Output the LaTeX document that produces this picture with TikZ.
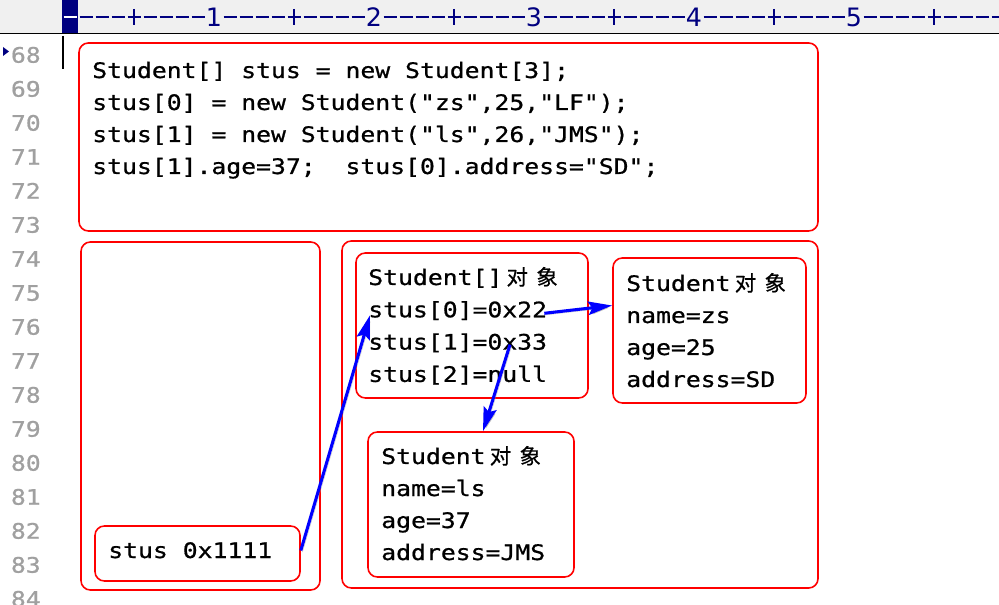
\documentclass[tikz,border=0pt]{standalone}
\usepackage{fontspec}
\usetikzlibrary{arrows.meta,fit}
\newfontfamily\codefont[FakeStretch=1.16,FakeBold=0.8]{DejaVu Sans Mono}
\newfontfamily\cjkfont[FakeBold=0.6]{Noto Sans CJK SC}
\newfontfamily\rulerfont{DejaVu Sans}
\newcommand\cj[1]{\makebox[22.35pt]{\cjkfont #1}}
\definecolor{rulerbg}{HTML}{F0F0F0}
\definecolor{navy}{HTML}{000080}
\definecolor{lnum}{HTML}{A0A0A0}

\begin{document}
\begin{tikzpicture}
  [x=0.75pt,y=-0.75pt,
   box/.style={draw=red,line width=1.2pt,rounded corners=7pt,inner sep=0pt},
   code/.style={inner sep=0pt,anchor=base west,font={\codefont\fontsize{16pt}{24pt}\selectfont}},
   lineno/.style={inner sep=0pt,anchor=base east,text=lnum,font={\codefont\fontsize{16pt}{24pt}\selectfont}},
   tick/.style={navy,line width=0.8pt},
   link/.style={blue,line width=2.3pt,-{Stealth[length=18pt,width=10pt,inset=3pt]},
     preaction={draw=black!40,opacity=.5,transform canvas={shift={(1.2pt,-1.2pt)}}}}]
  \useasboundingbox (0,0) rectangle (999,605);

  \fill[rulerbg] (0,0) rectangle (999,33);
  \draw[line width=0.8pt] (0,33.5) -- (999,33.5);
  \fill[navy] (62,0) rectangle (78,33);
  \draw[white,line width=0.8pt] (63.5,17) -- (76.5,17);
  \foreach \i in {1,...,58}
    \draw[tick] ({63.5+16*\i},17) -- ({76.5+16*\i},17);
  \foreach \i in {0,...,5}
    \draw[tick] ({134+160*\i},9) -- ({134+160*\i},25);
  \foreach \d in {1,...,5}
    \node[fill=rulerbg,text=navy,inner sep=0pt,minimum width=12pt,minimum height=14pt,anchor=base,
      font={\rulerfont\fontsize{19pt}{20pt}\selectfont}] (col\d) at ({54+160*\d},27) {\d};

  \fill[navy] (3,47) -- (9,51.5) -- (3,56) -- cycle;
  \draw[line width=1.1pt] (63,36) -- (63,69);
  \foreach \n [count=\k from 0] in {68,...,84}
    \node[lineno] (ln\n) at (41,{62.7+34*\k}) {\n};

  \node[box,fit={(79,43) (818,231)}] (main) {};
  \node[box,fit={(81,242) (320,590)}] (stack) {};
  \node[box,fit={(342,241) (818,588)}] (heap) {};
  \node[box,fit={(356,253) (588,398)}] (arr) {};
  \node[box,fit={(613,258) (806,403)}] (zs) {};
  \node[box,fit={(368,432) (574,577)}] (ls) {};
  \node[box,fit={(95,526) (300,581)}] (ptr) {};

  \foreach \txt [count=\k from 0] in {Student[] stus = new Student[3];,
      {stus[0] = new Student("zs",25,"LF");},
      {stus[1] = new Student("ls",26,"JMS");},
      stus[1].age=37;\ \ stus[0].address="SD";}
    \node[code] (src\k) at (92,{78+32*\k}) {\txt};
  \foreach \txt [count=\k from 0] in {Student[]\cj{对}\cj{象}, stus[0]=0x22, stus[1]=0x33, stus[2]=null}
    \node[code] (arr\k) at (368,{285+32.3*\k}) {\txt};
  \foreach \txt [count=\k from 0] in {Student\cj{对}\cj{象}, name=zs, age=25, address=SD}
    \node[code] (zs\k) at (626,{291+32*\k}) {\txt};
  \foreach \txt [count=\k from 0] in {Student\cj{对}\cj{象}, name=ls, age=37, address=JMS}
    \node[code] (ls\k) at (381,{464+32*\k}) {\txt};
  \node[code] (ptr0) at (108,558) {stus 0x1111};

  \draw[link] ([shift={(0,-3)}]ptr.east) -- ([shift={(2,-2)}]arr1.base west);
  \draw[link] ([shift={(-3,-4)}]arr1.base east) -- ([shift={(0,-25)}]zs.west);
  \draw[link] ([shift={(142,-5)}]arr2.base west) -- ([shift={(12,0)}]ls.north);

\end{tikzpicture}
\end{document}
